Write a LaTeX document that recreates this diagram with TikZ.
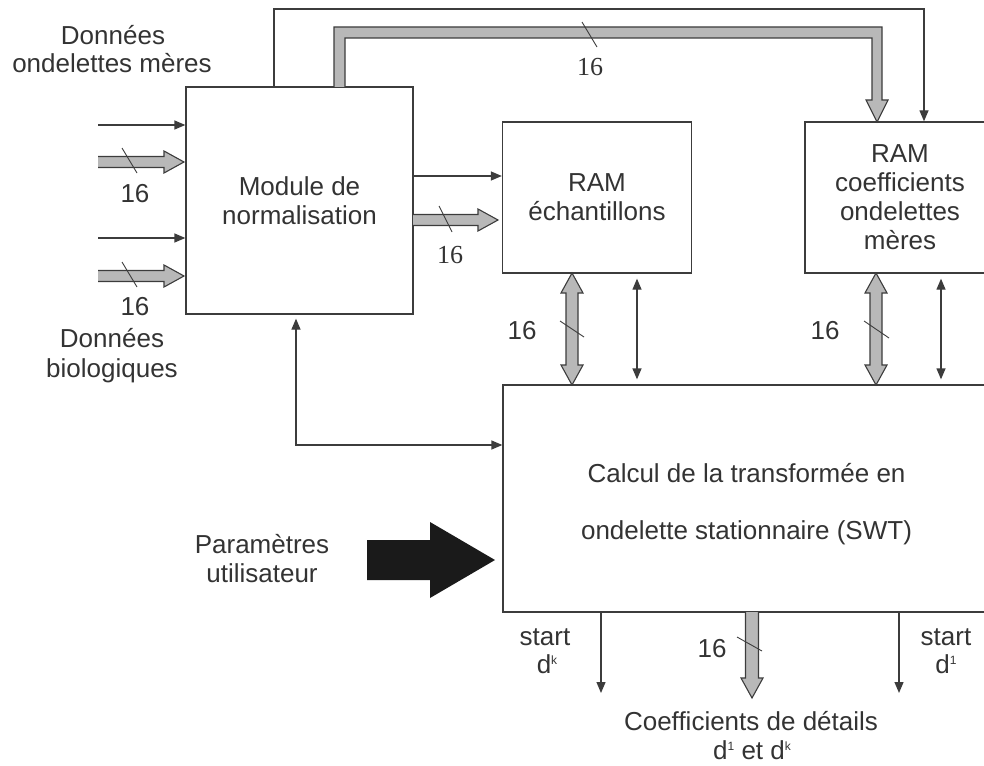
\documentclass[tikz,border=0pt]{standalone}
\usepackage{fontspec}
\setmainfont{Liberation Sans}
\newfontfamily\seriffont{Liberation Serif}
\usetikzlibrary{arrows.meta}
\definecolor{ln}{HTML}{3C3C3C}
\definecolor{tx}{HTML}{333333}
\definecolor{busfill}{HTML}{B8B8B8}
\definecolor{bigarrow}{HTML}{1A1A1A}
\newcommand\supx[1]{\raisebox{9pt}{\fontsize{12}{12}\selectfont #1}}
% right-pointing bus: x1, x2 (tip), y
\newcommand\busR[3]{%
  \fill[busfill] (#1,#3-5.5) -- (#2-20,#3-5.5) -- (#2-20,#3-11) -- (#2,#3) -- (#2-20,#3+11) -- (#2-20,#3+5.5) -- (#1,#3+5.5) -- cycle;
  \draw[busline] (#1,#3-5.5) -- (#2-20,#3-5.5) -- (#2-20,#3-11) -- (#2,#3) -- (#2-20,#3+11) -- (#2-20,#3+5.5) -- (#1,#3+5.5);}
% vertical double-headed bus: x, y1 (top tip), y2 (bottom tip)
\newcommand\busV[3]{%
  \filldraw[busfill,busline] (#1,#2) -- (#1+11,#2+20) -- (#1+6,#2+20) -- (#1+6,#3-20) -- (#1+11,#3-20) -- (#1,#3) -- (#1-11,#3-20) -- (#1-6,#3-20) -- (#1-6,#2+20) -- (#1-11,#2+20) -- cycle;}
% downward bus: x, y1 (start), y2 (tip)
\newcommand\busD[3]{%
  \fill[busfill] (#1-6.5,#2) -- (#1-6.5,#3-20) -- (#1-11,#3-20) -- (#1,#3) -- (#1+11,#3-20) -- (#1+6.5,#3-20) -- (#1+6.5,#2) -- cycle;
  \draw[busline] (#1-6.5,#2) -- (#1-6.5,#3-20) -- (#1-11,#3-20) -- (#1,#3) -- (#1+11,#3-20) -- (#1+6.5,#3-20) -- (#1+6.5,#2);}
\begin{document}
\begin{tikzpicture}[x=1pt,y=-1pt,
  font=\fontsize{26}{29}\selectfont,
  box/.style={draw=ln,line width=1.3pt,inner sep=0pt,align=center,text=tx},
  lbl/.style={text=tx,inner sep=0pt,anchor=base},
  num/.style={lbl,font=\seriffont\fontsize{26}{29}\selectfont},
  thinarrow/.style={draw=ln,line width=1.3pt,-{Triangle[length=11pt,width=9pt]}},
  thinboth/.style={draw=ln,line width=1.3pt,{Triangle[length=11pt,width=9pt]}-{Triangle[length=11pt,width=9pt]}},
  busline/.style={draw=ln,line width=1.1pt,line join=miter},
  slash/.style={draw=ln,line width=0.9pt}]
\useasboundingbox (0,0) rectangle (984,765);

% boxes
\node[box,minimum width=227pt,minimum height=227pt] (mod) at (299.5,200.5) {Module de\\normalisation};
\node[box,minimum width=189pt,minimum height=151pt] (rs) at (597,197.5) {RAM\\échantillons};
\node[box,minimum width=190pt,minimum height=151pt] (rc) at (900,197.5) {RAM\\coefficients\\ondelettes\\mères};
\node[box,minimum width=487pt,minimum height=227pt,font=\fontsize{26}{57}\selectfont] (swt) at (746.5,498.5) {\rule{0pt}{31pt}Calcul de la transformée en\\ondelette stationnaire (SWT)};

% free ends
\coordinate (in1) at (98,125);
\coordinate (in2) at (98,238);
\coordinate (t1) at (274,9);
\coordinate (t2) at (924,9);
\coordinate (fb) at (296,445);
\coordinate (o1) at (601,693);
\coordinate (o2) at (899,693);

% thin connectors
\draw[thinarrow] (in1) -- (in1 -| mod.west);
\draw[thinarrow] (in2) -- (in2 -| mod.west);
\draw[thinarrow] (mod.east |- 0,176) -- (rs.west |- 0,176);
\draw[thinarrow] (t1 |- mod.north) -- (t1) -- (t2) -- (t2 |- rc.north);
\draw[thinboth,shorten <=4pt] (fb |- mod.south) -- (fb) -- (fb -| swt.west);
\draw[thinboth,shorten <=5pt,shorten >=5pt] (rs.south -| 637,0) -- (swt.north -| 637,0);
\draw[thinboth,shorten <=5pt,shorten >=5pt] (rc.south -| 941,0) -- (swt.north -| 941,0);
\draw[thinarrow] (o1 |- swt.south) -- (o1);
\draw[thinarrow] (o2 |- swt.south) -- (o2);

% buses
\fill[busfill] (334,87) -- (334,27) -- (882,27) -- (882,100) -- (888,100) -- (877,122) -- (866,100) -- (872,100) -- (872,38) -- (345,38) -- (345,87) -- cycle;
\draw[busline] (334,87) -- (334,27) -- (882,27) -- (882,100) -- (888,100) -- (877,122) -- (866,100) -- (872,100) -- (872,38) -- (345,38) -- (345,87);
\busR{98}{184}{162}
\busR{98}{184}{276}
\busR{413}{498}{220}
\busV{572}{273}{385}
\busV{876}{273}{385}
\busD{752}{612}{698}

% bus slashes
\draw[slash] (582,22) -- (597,47);
\draw[slash] (122,148) -- (137,173);
\draw[slash] (122,262) -- (137,287);
\draw[slash] (439,206) -- (452,232);
\draw[slash] (560,321) -- (584,337);
\draw[slash] (864,321) -- (889,338);
\draw[slash] (737,637) -- (762,651);

% big user-parameter arrow
\fill[bigarrow] (367,540) -- (430,540) -- (430,522) -- (495,560) -- (430,598) -- (430,580) -- (367,580) -- cycle;

% labels
\node[lbl] (l1) at (113,45) {Données};
\node[lbl] (l2) at (112,73) {ondelettes mères};
\node[lbl] (n1) at (135,202) {16};
\node[lbl] (n2) at (135,315) {16};
\node[lbl] (l3) at (112,347) {Données};
\node[lbl] (l4) at (112,377) {biologiques};
\node[num] (n3) at (450,263) {16};
\node[num] (n4) at (590,76) {16};
\node[lbl] (n5) at (522,339) {16};
\node[lbl] (n6) at (825,339) {16};
\node[lbl] (n7) at (712,657) {16};
\node[lbl] (s1) at (545,645) {start};
\node[lbl] (s2) at (547,673) {d\supx{k}};
\node[lbl] (s3) at (946,645) {start};
\node[lbl] (s4) at (946,673) {d\supx{1}};
\node[lbl] (c1) at (751,730) {Coefficients de détails};
\node[lbl] (c2) at (752,759) {d\supx{1} et d\supx{k}};
\node[lbl] (p1) at (262,553) {Paramètres};
\node[lbl] (p2) at (262,582) {utilisateur};
\end{tikzpicture}
\end{document}
